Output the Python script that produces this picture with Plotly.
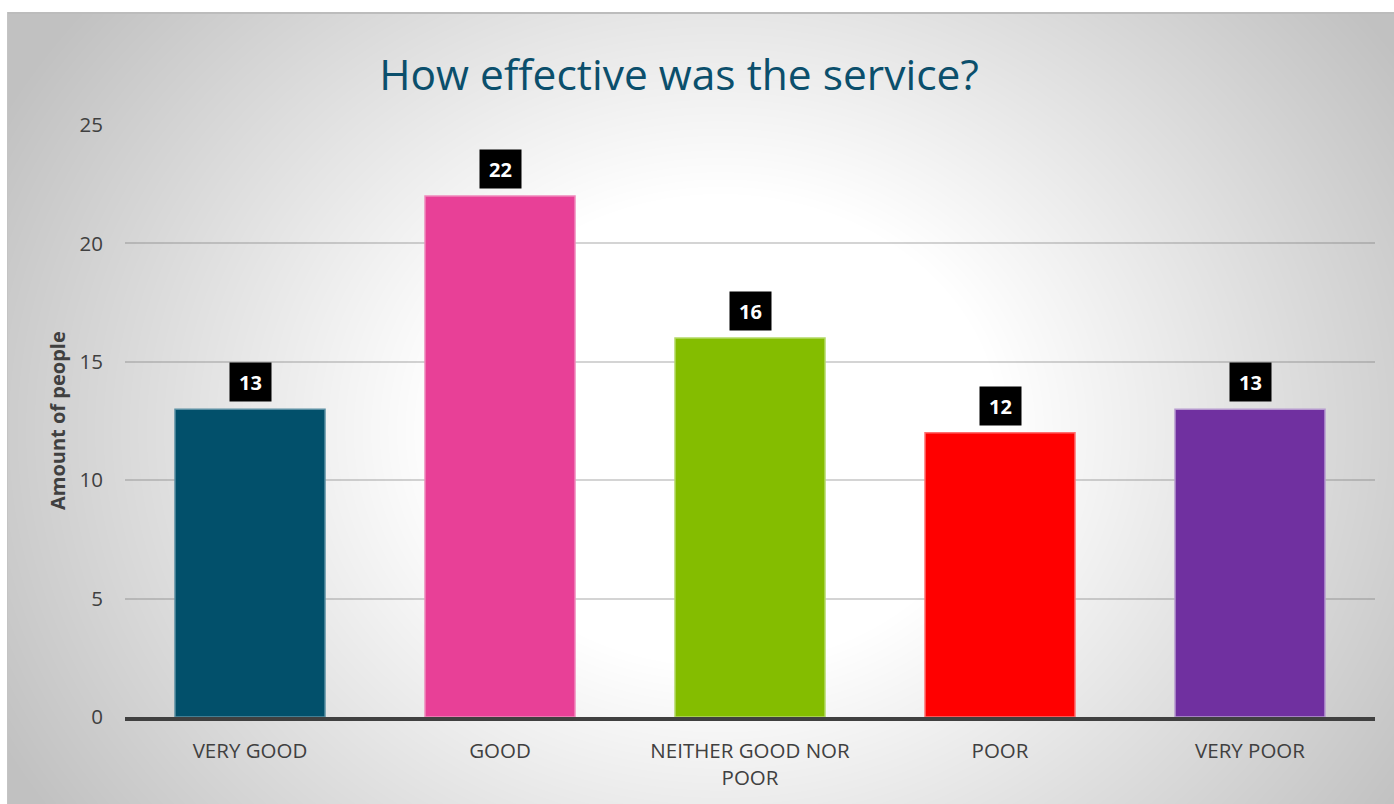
import base64
import struct
import zlib

import numpy as np
import plotly.graph_objects as go

# ---- data -------------------------------------------------------------
categories = ["VERY GOOD", "GOOD", "NEITHER GOOD NOR<br>POOR", "POOR", "VERY POOR"]
counts = [13, 22, 16, 12, 13]
bar_colors = ["#02506B", "#E84097", "#84BD00", "#FF0000", "#7030A0"]
edge_colors = ["#5A8FA3", "#F088BC", "#B3D966", "#FF7070", "#B699CF"]

# ---- canvas geometry --------------------------------------------------
W, H = 1394, 804
ML, MR, MT, MB = 125, 19, 125, 87
PW, PH = W - ML - MR, H - MT - MB

# chart-area panel (starts a few pixels in from the top-left corner)
PX0, PY0 = 7, 12


def gradient_png(width, height):
    """Grey radial-style wash, bright in the middle, darker at the edges."""
    xs = np.arange(width) + PX0
    ys = np.arange(height) + PY0
    X, Y = np.meshgrid(xs, ys)
    cx, cy, ax, ay = 720.0, 430.0, 690.0, 582.0
    d = np.sqrt(((X - cx) / ax) ** 2 + ((Y - cy) / ay) ** 2)
    drop = np.clip(80.0 * (d - 0.4), 0, 62)
    img = (255.0 - drop).round().astype(np.uint8)
    # thin frame on the top and left edges of the panel
    img[0:2, :] = 188
    img[:, 0:1] = 196
    # PNG with "Sub" row filter for compact output
    sub = img.astype(np.int16)
    sub[:, 1:] = (img[:, 1:].astype(np.int16) - img[:, :-1].astype(np.int16)) & 0xFF
    raw = b"".join(b"\x01" + sub[r].astype(np.uint8).tobytes() for r in range(height))

    def chunk(tag, data):
        c = struct.pack(">I", len(data)) + tag + data
        return c + struct.pack(">I", zlib.crc32(tag + data) & 0xFFFFFFFF)

    png = b"\x89PNG\r\n\x1a\n"
    png += chunk(b"IHDR", struct.pack(">IIBBBBB", width, height, 8, 0, 0, 0, 0))
    png += chunk(b"IDAT", zlib.compress(raw, 9))
    png += chunk(b"IEND", b"")
    return "data:image/png;base64," + base64.b64encode(png).decode()


bg_w, bg_h = W - PX0, H - PY0
bg_src = gradient_png(bg_w, bg_h)

FONT = "Open Sans"
TEXT_GREY = "#404040"

fig = go.Figure()
fig.add_trace(
    go.Bar(
        x=categories,
        y=counts,
        marker=dict(color=bar_colors, line=dict(color=edge_colors, width=1.5)),
        width=0.6,
        hoverinfo="x+y",
    )
)

# value badges above each bar
for cat, val in zip(categories, counts):
    fig.add_annotation(
        x=cat,
        y=val,
        xref="x",
        yref="y",
        text=f"<b>{val}</b>",
        showarrow=False,
        yanchor="bottom",
        yshift=7,
        bgcolor="black",
        width=37,
        height=34,
        borderpad=2,
        font=dict(family=FONT, size=20, color="white"),
    )

# rotated axis caption
fig.add_annotation(
    text="<b>Amount of people</b>",
    xref="paper",
    yref="paper",
    x=(57 - ML) / PW,
    y=0.5,
    xanchor="center",
    yanchor="middle",
    textangle=-90,
    showarrow=False,
    font=dict(family=FONT, size=20, color=TEXT_GREY),
)

fig.add_layout_image(
    dict(
        source=bg_src,
        xref="paper",
        yref="paper",
        x=(PX0 - ML) / PW,
        y=1 + (MT - PY0) / PH,
        sizex=bg_w / PW,
        sizey=bg_h / PH,
        xanchor="left",
        yanchor="top",
        sizing="stretch",
        layer="below",
    )
)

fig.update_layout(
    width=W,
    height=H,
    margin=dict(l=ML, r=MR, t=MT, b=MB, autoexpand=False),
    paper_bgcolor="white",
    plot_bgcolor="rgba(0,0,0,0)",
    showlegend=False,
    bargap=0.4,
    title=dict(
        text="How effective was the service?",
        x=679 / W,
        xref="container",
        xanchor="center",
        y=1 - 75 / H,
        yref="container",
        yanchor="middle",
        font=dict(family=FONT, size=42.5, color="#0B4F6C"),
    ),
    xaxis=dict(
        type="category",
        showgrid=False,
        showline=True,
        linecolor=TEXT_GREY,
        linewidth=3.5,
        ticks="",
        ticklabelstandoff=13,
        tickfont=dict(family=FONT, size=20.5, color=TEXT_GREY),
        fixedrange=True,
    ),
    yaxis=dict(
        range=[0, 25],
        dtick=5,
        showgrid=True,
        gridcolor="rgba(100,100,100,0.28)",
        gridwidth=1.5,
        zeroline=False,
        showline=False,
        ticks="",
        ticklabelstandoff=21,
        tickfont=dict(family=FONT, size=20.5, color=TEXT_GREY),
        fixedrange=True,
    ),
)

fig.write_html("out.html")
